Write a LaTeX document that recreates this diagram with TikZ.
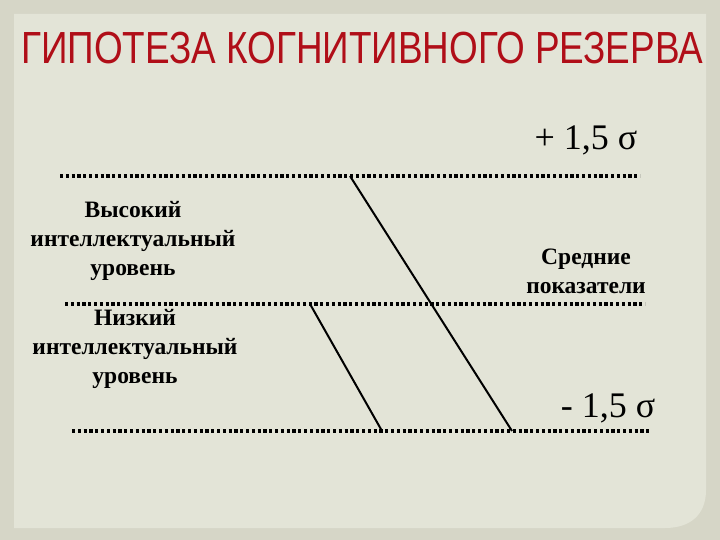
\documentclass[tikz,border=0pt]{standalone}
\usepackage{fontspec}
\setmainfont{Liberation Serif}
\newfontfamily\titlefont{Liberation Sans}
\usepackage{tikz}
\definecolor{Bkg}{RGB}{214,214,199}
\definecolor{Pane}{RGB}{227,228,215}
\definecolor{Ttl}{RGB}{176,14,24}

\tikzset{
  dotline/.style={line width=3.2pt, dash pattern=on 3.2pt off 2.6pt},
  slope/.style={line width=2pt},
  level/.style={align=center, font=\fontsize{23.5}{29}\selectfont\bfseries},
  sigma/.style={font=\fontsize{36}{40}\selectfont}
}

\begin{document}
\begin{tikzpicture}[x=1pt,y=-1pt]
    \useasboundingbox (0,0) rectangle (720,540);
    \fill[Bkg] (0,0) rectangle (720,540);
    \fill[Pane] (14,14) -- (706,14) -- (706,490)
        .. controls (706,515) and (690,528) .. (665,528) -- (14,528) -- cycle;

    % title
    \node (title) at (362,48)
        {\titlefont\fontsize{45}{48}\selectfont\color{Ttl}\scalebox{0.82}[1]{ГИПОТЕЗА КОГНИТИВНОГО РЕЗЕРВА}};

    % levels
    \coordinate (top l) at (60,176);   \coordinate (top r) at (640,176);
    \coordinate (mid l) at (65,304);   \coordinate (mid r) at (645,304);
    \coordinate (bot l) at (72,431);   \coordinate (bot r) at (650,431);
    \draw[dotline] (top l) -- (top r);
    \draw[dotline] (mid l) -- (mid r);
    \draw[dotline] (bot l) -- (bot r);

    \node[sigma] (plus)  at (586,140) {+ 1,5 σ};
    \node[sigma] (minus) at (608,408) {- 1,5 σ};

    \node[level] (high) at (133,241) {Высокий\\интеллектуальный\\уровень};
    \node[level] (low)  at (135,349) {Низкий\\интеллектуальный\\уровень};
    \node[level] (avg)  at (586,271) {Средние\\показатели};

    % slopes
    \coordinate (a1) at (350,176);  \coordinate (a2) at (512,431);
    \coordinate (b1) at (310,304);  \coordinate (b2) at (382,431);
    \draw[slope] (a1) -- (a2);
    \draw[slope] (b1) -- (b2);
\end{tikzpicture}
\end{document}
